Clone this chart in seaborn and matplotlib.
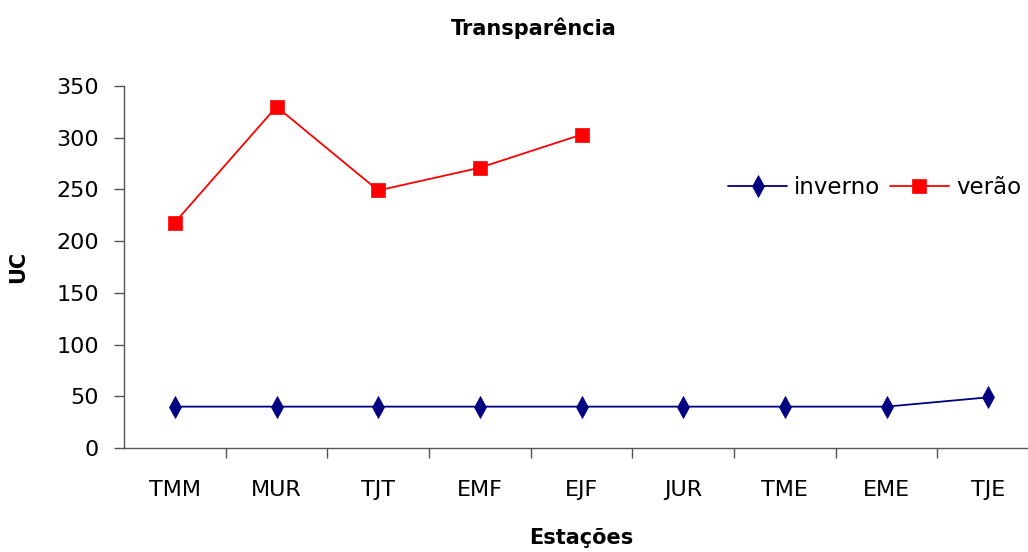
import pandas as pd
import seaborn as sns
import matplotlib.pyplot as plt

sns.set_theme(style='white')
plt.rcParams['font.family'] = ['DejaVu Sans']
plt.rcParams['text.color'] = 'black'
plt.rcParams['axes.labelcolor'] = 'black'
plt.rcParams['xtick.color'] = 'black'
plt.rcParams['ytick.color'] = 'black'

stations = ['TMM', 'MUR', 'TJT', 'EMF', 'EJF', 'JUR', 'TME', 'EME', 'TJE']
inverno = [40, 40, 40, 40, 40, 40, 40, 40, 49]
verao = [218, 330, 249, 271, 303]
y_ticks = [0, 50, 100, 150, 200, 250, 300, 350]

df_inv = pd.DataFrame({'pos': range(len(inverno)), 'uc': inverno})
df_ver = pd.DataFrame({'pos': range(len(verao)), 'uc': verao})

fig = plt.figure(figsize=(10.28, 5.52), dpi=100)
ax = fig.add_axes([124 / 1028, 1 - 448 / 552, 915 / 1028, 362 / 552])

sns.lineplot(data=df_inv, x='pos', y='uc', ax=ax, color='#000080',
             marker='d', markersize=11, markeredgecolor='#000080',
             markeredgewidth=0.5, linewidth=1.3, label='inverno')
sns.lineplot(data=df_ver, x='pos', y='uc', ax=ax, color='#ff0000',
             marker='s', markersize=10.5, markeredgecolor='#ff0000',
             markeredgewidth=0.5, linewidth=1.3, label='verão')

ax.set_xlim(-0.5, len(stations) - 0.5)
ax.set_ylim(0, 350)
ax.set_yticks(y_ticks)
ax.set_yticklabels([str(v) for v in y_ticks], fontsize=16)

# category boundaries get tick marks, labels sit in the middle
ax.set_xticks([i + 0.5 for i in range(len(stations))])
ax.set_xticklabels([])
ax.set_xticks(range(len(stations)), minor=True)
ax.set_xticklabels(stations, minor=True, fontsize=16)
ax.tick_params(axis='x', which='major', length=7, width=1, color='#555555',
               direction='out', bottom=True)
ax.tick_params(axis='x', which='minor', length=0, pad=23)
ax.tick_params(axis='y', length=7, width=1, color='#555555',
               direction='out', left=True, pad=11)

for side in ['top', 'right']:
    ax.spines[side].set_visible(False)
for side in ['left', 'bottom']:
    ax.spines[side].set_color('#555555')
    ax.spines[side].set_linewidth(1)

ax.set_xlabel('Estações', fontsize=15, fontweight='bold', labelpad=20)
ax.set_ylabel('UC', fontsize=15, fontweight='bold', labelpad=20)
fig.text(534 / 1028, 1 - 28 / 552, 'Transparência', fontsize=15,
         fontweight='bold', ha='center', va='center')

ax.legend_.remove()
handles, labels = ax.get_legend_handles_labels()
fig.legend(handles, labels, ncol=2, loc='center left',
           bbox_to_anchor=(0.708, 0.661), frameon=False, fontsize=16.5,
           borderaxespad=0, borderpad=0, handlelength=2.6,
           handletextpad=0.3, columnspacing=0.4)

plt.savefig('out.png', dpi=100)
plt.close()
